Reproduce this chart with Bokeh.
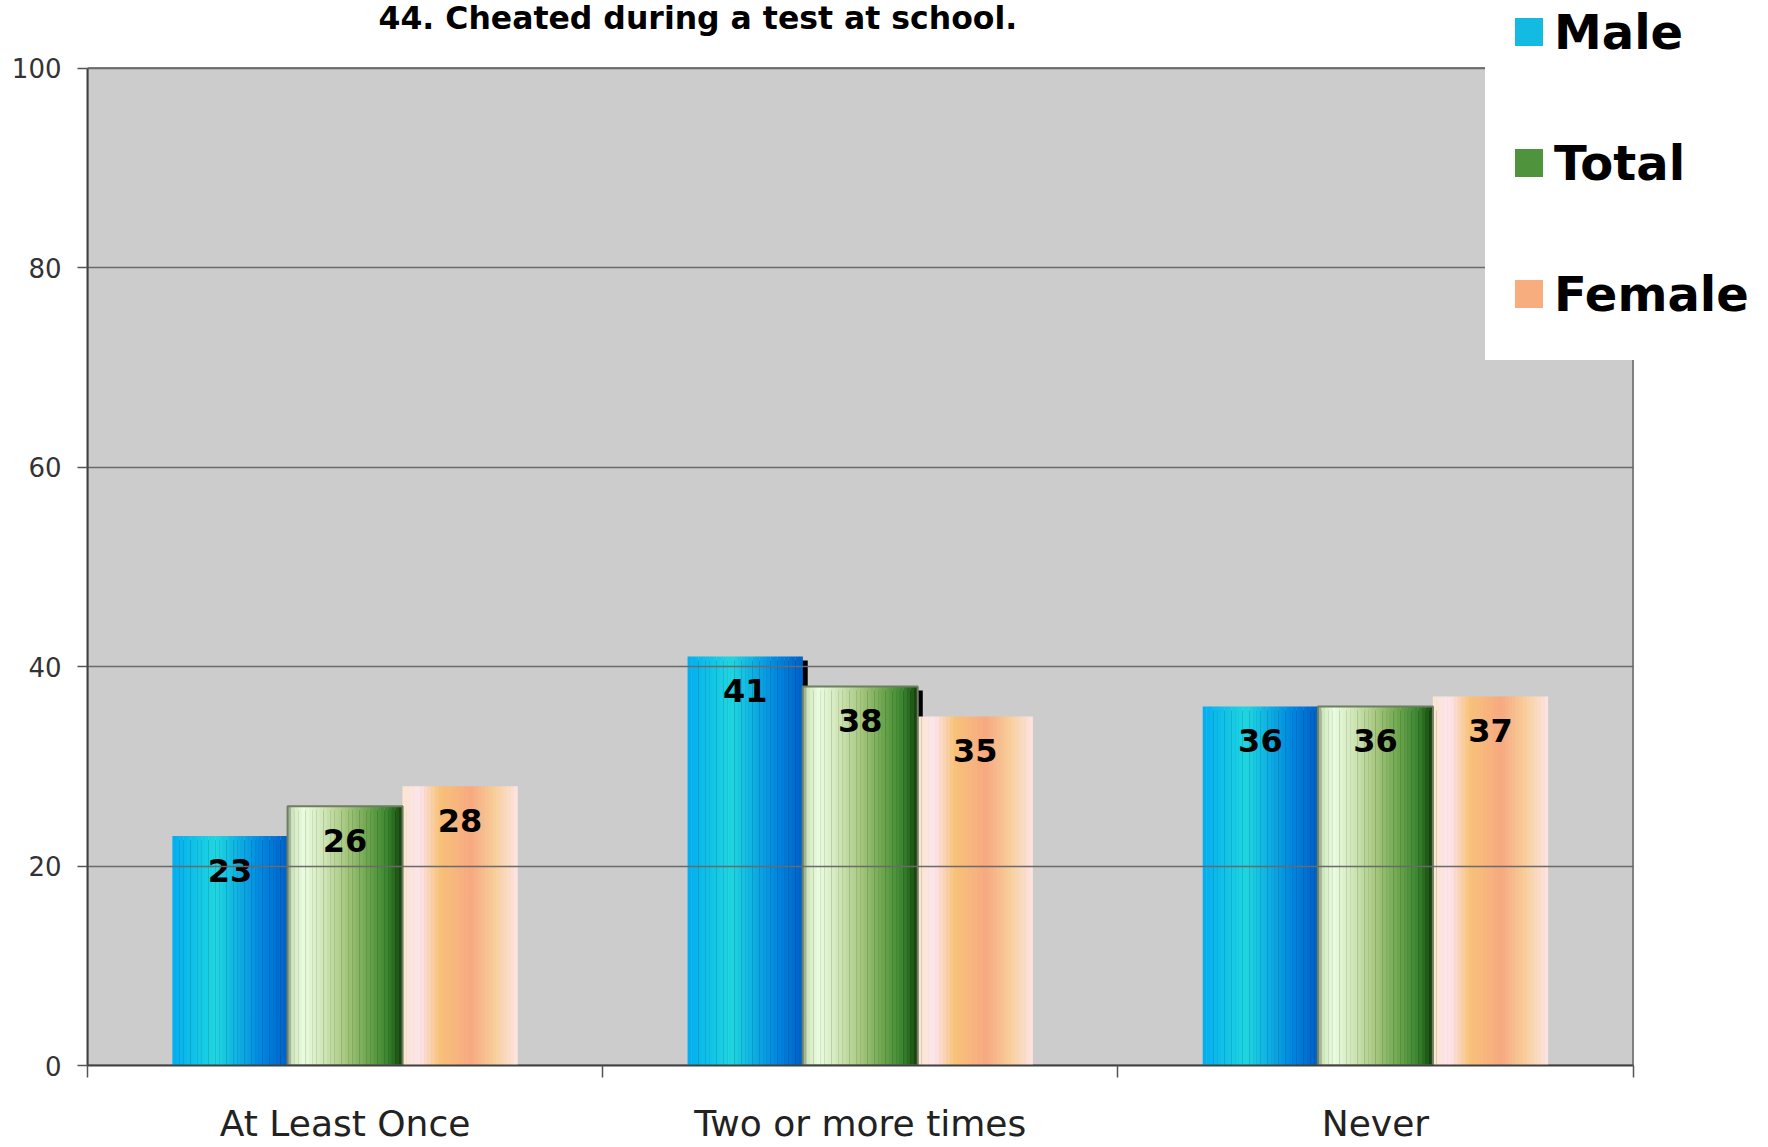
from bokeh.plotting import figure
from bokeh.models import (ColumnDataSource, Range1d, FixedTicker, Label, Legend, LegendItem, Grid)
from bokeh.core.properties import value
from bokeh.embed import file_html
from bokeh.resources import INLINE

# ---------------- data ----------------
title_text = "44. Cheated during a test at school."
categories = ["At Least Once", "Two or more times", "Never"]
series_names = ["Male", "Total", "Female"]
male = [23, 41, 36]
total = [26, 38, 36]
female = [28, 35, 37]
y_ticks = [0, 20, 40, 60, 80, 100]

# ---------------- style / layout ----------------
FONT = "DejaVu Sans"
W, H = 1768, 1147
LEFT, BOTTOM = 87, 82            # borders (px)
PLOT_W = 1545.5                  # width of the grey plot area (px)
FRAME_W = W - LEFT
FRAME_H = H - BOTTOM
Y_MAX = y_ticks[-1]
N_CAT = len(categories)
X_END = N_CAT * FRAME_W / PLOT_W
Y_END = 106.77
PX_X = N_CAT / PLOT_W            # data units per px (x)
PX_Y = Y_END / FRAME_H           # data units per px (y)
BAR_W = 0.2233
N_STRIPS = 32

grad_male = [(0.0, "#02AEF0"), (0.38, "#20D6E0"), (0.55, "#10B4E2"), (0.78, "#0086E0"), (1.0, "#0060C6")]
grad_total = [(0.0, "#8E9C84"), (0.05, "#D2EAC2"), (0.14, "#EAFCE0"), (0.3, "#D2E8BA"),
              (0.5, "#A8C880"), (0.7, "#6EA64E"), (0.87, "#3A8530"), (0.95, "#205E16"), (1.0, "#1A3A10")]
grad_female = [(0.0, "#FBE6CE"), (0.15, "#FCE4EC"), (0.32, "#F8C278"), (0.6, "#F8A880"),
               (0.8, "#F8CE98"), (1.0, "#FDE4E4")]
legend_strip = [0.5, 0.8, 0.55]   # which strip colours the legend swatch


def hex2rgb(h):
    h = h.lstrip("#")
    return tuple(int(h[i:i + 2], 16) for i in (0, 2, 4))


def interp(stops, t):
    for (t0, c0), (t1, c1) in zip(stops[:-1], stops[1:]):
        if t0 <= t <= t1:
            f = (t - t0) / (t1 - t0) if t1 > t0 else 0
            a, b = hex2rgb(c0), hex2rgb(c1)
            return "#%02x%02x%02x" % tuple(int(round(a[j] + (b[j] - a[j]) * f)) for j in range(3))
    return stops[-1][1]


p = figure(width=W, height=H, output_backend="svg", toolbar_location=None, title=None,
           x_range=Range1d(0, X_END), y_range=Range1d(0, Y_END),
           min_border_left=LEFT, min_border_right=0, min_border_top=0, min_border_bottom=BOTTOM)
p.background_fill_color = "white"
p.border_fill_color = "white"
p.outline_line_color = None

# grey plot area with its frame line
p.quad(left=0, right=N_CAT, bottom=0, top=Y_MAX, fill_color="#CCCCCC",
       line_color="#808080", line_width=2, level="underlay")

# axes
xa = p.xaxis[0]
xa.bounds = (0, N_CAT)
xa.ticker = FixedTicker(ticks=[i + 0.5 for i in range(N_CAT)], minor_ticks=list(range(N_CAT + 1)))
xa.major_label_overrides = {i + 0.5: c for i, c in enumerate(categories)}
xa.major_tick_line_color = None
xa.major_tick_out = 0
xa.major_tick_in = 0
xa.minor_tick_out = 12
xa.minor_tick_in = 0
xa.minor_tick_line_color = "#555555"
xa.minor_tick_line_width = 1.5
xa.axis_line_color = "#404040"
xa.axis_line_width = 2
xa.major_label_text_font = FONT
xa.major_label_text_font_size = "36px"
xa.major_label_text_color = "#222222"
xa.major_label_standoff = 25

ya = p.yaxis[0]
ya.bounds = (0, Y_MAX)
ya.ticker = FixedTicker(ticks=y_ticks)
ya.major_tick_out = 10
ya.major_tick_in = 0
ya.major_tick_line_color = "#555555"
ya.major_tick_line_width = 1.5
ya.minor_tick_line_color = None
ya.axis_line_color = "#404040"
ya.axis_line_width = 2
ya.major_label_text_font = FONT
ya.major_label_text_font_size = "26px"
ya.major_label_text_color = "#333333"
ya.major_label_standoff = 16

p.xgrid.visible = False
if "cross_bounds" in Grid.properties():
    p.ygrid.ticker = FixedTicker(ticks=y_ticks)
    p.ygrid.cross_bounds = (0, N_CAT)
    p.ygrid.level = "glyph"
    p.ygrid.grid_line_color = "#6A6A6A"
    p.ygrid.grid_line_width = 1.6
else:
    p.ygrid.visible = False
    p.segment(x0=[0] * len(y_ticks), x1=[N_CAT] * len(y_ticks), y0=y_ticks, y1=y_ticks,
              line_color="#6A6A6A", line_width=1.6)

series = [male, total, female]
grads = [grad_male, grad_total, grad_female]

# shadows (Male and Total bars)
for s in (0, 1):
    vals = series[s]
    sx = [i + 0.5 + (s - 1) * BAR_W + 5 * PX_X for i in range(len(vals))]
    st = [v - 4 * PX_Y for v in vals]
    p.vbar(x=sx, top=st, bottom=0, width=BAR_W, fill_color="black", line_color=None)

# gradient bars built of thin strips
bar_renderers = []
for s, (vals, stops) in enumerate(zip(series, grads)):
    xs, tops, cols = [], [], []
    for i, v in enumerate(vals):
        center = i + 0.5 + (s - 1) * BAR_W
        for k in range(N_STRIPS):
            t = (k + 0.5) / N_STRIPS
            xs.append(center - BAR_W / 2 + t * BAR_W)
            tops.append(v)
            cols.append(interp(stops, t))
    src = ColumnDataSource(dict(x=xs, top=tops, color=cols))
    r = p.vbar(x="x", top="top", bottom=0, width=BAR_W / N_STRIPS * 1.08, source=src,
               fill_color="color", line_color=None)
    bar_renderers.append(r)

# bevel outline on Total bars
p.vbar(x=[i + 0.5 for i in range(len(total))], top=total, bottom=0, width=BAR_W,
       fill_color=None, line_color="#6E7E62", line_width=2)

# value labels
for s, vals in enumerate(series):
    lx = [i + 0.5 + (s - 1) * BAR_W for i in range(len(vals))]
    src = ColumnDataSource(dict(x=lx, y=vals, t=[str(v) for v in vals]))
    p.text(x="x", y="y", text="t", source=src, text_align="center", text_baseline="alphabetic",
           y_offset=34, text_font=value(FONT), text_font_style="bold", text_font_size="32px",
           text_color="black")

# title
p.add_layout(Label(x=378 - LEFT, y=FRAME_H - 17, x_units="screen", y_units="screen",
                   text=title_text, text_align="left", text_baseline="alphabetic",
                   text_font=FONT, text_font_style="bold", text_font_size="31.5px",
                   text_color="black"))

# legend
items = [LegendItem(label=name, renderers=[r], index=int(f * N_STRIPS))
         for name, r, f in zip(series_names, bar_renderers, legend_strip)]
legend = Legend(items=items, location=(1485 - LEFT, FRAME_H - 360), orientation="vertical",
                background_fill_color="white", background_fill_alpha=1.0,
                border_line_color="white", border_line_alpha=0.0,
                label_text_font=FONT, label_text_font_style="bold",
                label_text_font_size="48px", label_text_color="black",
                glyph_width=35, glyph_height=35, label_standoff=8, label_height=81,
                padding=26, spacing=50, margin=0)
p.add_layout(legend)

open("out.html", "w").write(file_html(p, INLINE))
